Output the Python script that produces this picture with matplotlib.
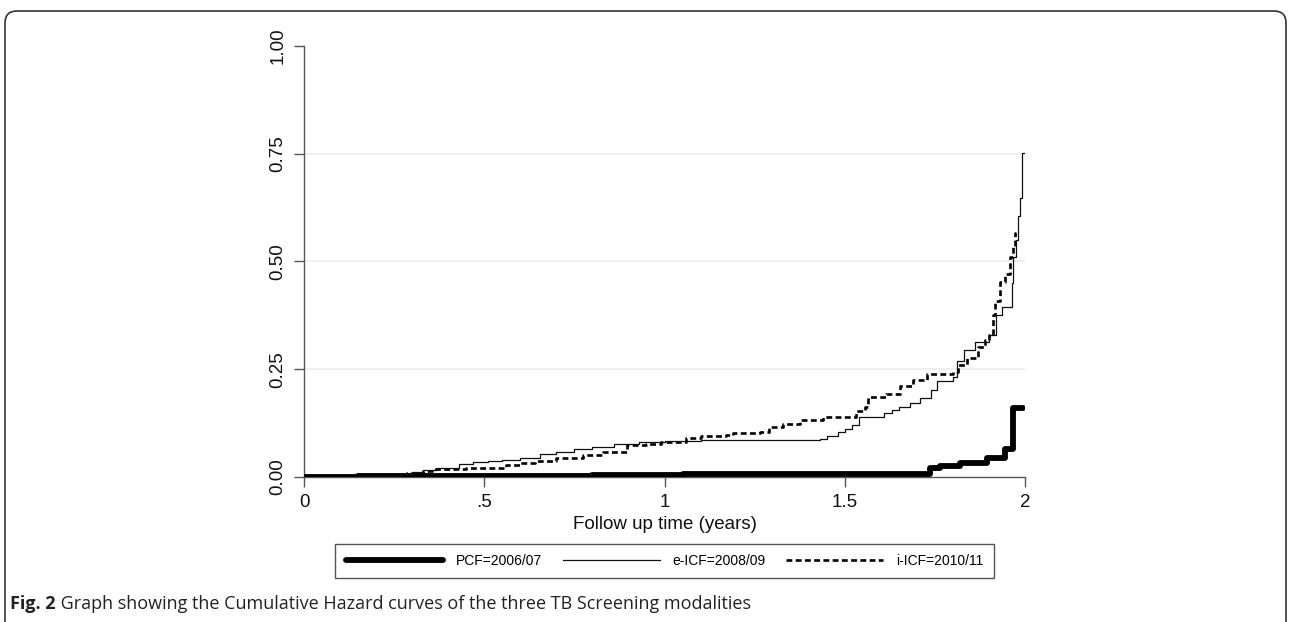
import matplotlib.pyplot as plt
import matplotlib.patches as patches

plt.rcParams['font.family'] = ['Liberation Sans', 'DejaVu Sans']

# Cumulative hazard step curves
pcf_t = [0, 0.15, 0.80, 1.05, 1.737, 1.764, 1.82, 1.894, 1.944, 1.967, 1.994]
pcf_h = [0, 0.003, 0.005, 0.008, 0.021, 0.025, 0.032, 0.045, 0.066, 0.159, 0.159]

eicf_t = [0, 0.15, 0.27, 0.30, 0.33, 0.37, 0.43, 0.47, 0.51, 0.55, 0.60, 0.655,
          0.70, 0.75, 0.80, 0.86, 0.93, 1.0, 1.10, 1.43, 1.45, 1.48, 1.50, 1.52,
          1.54, 1.61, 1.63, 1.65, 1.68, 1.71, 1.74, 1.755, 1.80, 1.81, 1.83,
          1.86, 1.90, 1.92, 1.935, 1.963, 1.966, 1.975, 1.98, 1.985, 1.993, 1.996]
eicf_h = [0, 0.003, 0.008, 0.012, 0.016, 0.022, 0.030, 0.034, 0.038, 0.040, 0.043,
          0.054, 0.059, 0.065, 0.069, 0.076, 0.081, 0.084, 0.086, 0.088, 0.095,
          0.105, 0.112, 0.121, 0.140, 0.148, 0.155, 0.163, 0.172, 0.183, 0.202,
          0.223, 0.233, 0.268, 0.295, 0.314, 0.329, 0.376, 0.395, 0.45, 0.51,
          0.55, 0.604, 0.648, 0.751, 0.751]

iicf_t = [0, 0.15, 0.285, 0.33, 0.36, 0.45, 0.51, 0.56, 0.60, 0.64, 0.70, 0.775,
          0.83, 0.895, 0.95, 0.99, 1.06, 1.10, 1.17, 1.19, 1.265, 1.29, 1.33,
          1.375, 1.44, 1.505, 1.53, 1.555, 1.565, 1.615, 1.653, 1.69, 1.727,
          1.80, 1.815, 1.84, 1.87, 1.89, 1.90, 1.912, 1.917, 1.93, 1.945, 1.958,
          1.966, 1.972, 1.976]
iicf_h = [0, 0.003, 0.010, 0.014, 0.018, 0.020, 0.022, 0.027, 0.032, 0.037, 0.043,
          0.051, 0.058, 0.074, 0.077, 0.080, 0.090, 0.095, 0.097, 0.101, 0.105,
          0.115, 0.122, 0.131, 0.140, 0.140, 0.152, 0.163, 0.185, 0.193, 0.21,
          0.225, 0.239, 0.244, 0.26, 0.275, 0.302, 0.318, 0.329, 0.376, 0.407,
          0.453, 0.47, 0.51, 0.534, 0.566, 0.566]

labels = ['PCF=2006/07', 'e-ICF=2008/09', 'i-ICF=2010/11']
x_ticks = [0, 0.5, 1, 1.5, 2]
x_ticklabels = ['0', '.5', '1', '1.5', '2']
y_ticks = [0, 0.25, 0.5, 0.75, 1.0]

W, H = 1292, 622
fig = plt.figure(figsize=(W / 100, H / 100), dpi=100)
ax = fig.add_axes([304 / W, 1 - 477 / H, (1025 - 304) / W, (477 - 45.7) / H])

l1, = ax.plot(pcf_t, pcf_h, drawstyle='steps-post', color='black', lw=4.2,
              solid_capstyle='round', zorder=3)
l2, = ax.plot(eicf_t, eicf_h, drawstyle='steps-post', color='#111111', lw=0.9, zorder=4)
l3, = ax.plot(iicf_t, iicf_h, drawstyle='steps-post', color='black', lw=1.9,
              linestyle=(0, (2.2, 1.3)), zorder=3)

ax.set_xlim(0, 2)
ax.set_ylim(0, 1)
ax.set_xticks(x_ticks)
ax.set_xticklabels(x_ticklabels)
ax.set_yticks(y_ticks)
ax.set_yticklabels([f'{v:.2f}' for v in y_ticks])
plt.setp(ax.get_yticklabels(), rotation=90, va='center')

for side in ['top', 'right']:
    ax.spines[side].set_visible(False)
for side in ['left', 'bottom']:
    ax.spines[side].set_color('#555555')
    ax.spines[side].set_linewidth(1.0)
ax.tick_params(length=7.5, width=1.0, color='#555555', labelsize=13.5,
               labelcolor='#111111', pad=5)

# light horizontal grid, not on the 0 and 1 lines
ax.grid(axis='y', color='#eeeeee', linewidth=1.3, zorder=0)
ax.set_axisbelow(True)
gl = ax.get_ygridlines()
gl[0].set_visible(False)
gl[-1].set_visible(False)

ax.set_xlabel('Follow up time (years)', fontsize=13.5, color='#111111', labelpad=3)

leg = fig.legend([l1, l2, l3], labels, loc='center', ncol=3,
                 bbox_to_anchor=(664.5 / W, 1 - 561 / H),
                 fontsize=10, handlelength=7.0, handletextpad=0.9, borderpad=0.75,
                 columnspacing=1.5, borderaxespad=0, fancybox=False, framealpha=1)
leg.get_frame().set_edgecolor('#555555')
leg.get_frame().set_linewidth(1.0)

# rounded journal frame
frame = patches.FancyBboxPatch((0.05, -0.3), 12.81, 6.41,
                               boxstyle='round,pad=0,rounding_size=0.12',
                               transform=fig.dpi_scale_trans, facecolor='none',
                               edgecolor='#333333', linewidth=1.2)
fig.add_artist(frame)

cap_font = ['Open Sans', 'DejaVu Sans']
cap1 = fig.text(10 / W, 1 - 613 / H, 'Fig. 2', fontsize=13, fontweight='bold',
                family=cap_font, color='#222222', va='bottom')
fig.add_artist(plt.Annotation(
    ' Graph showing the Cumulative Hazard curves of the three TB Screening modalities',
    xy=(1, 0), xycoords=cap1, va='bottom', fontsize=13,
    family=cap_font, color='#222222'))

fig.savefig('out.png', dpi=100)
